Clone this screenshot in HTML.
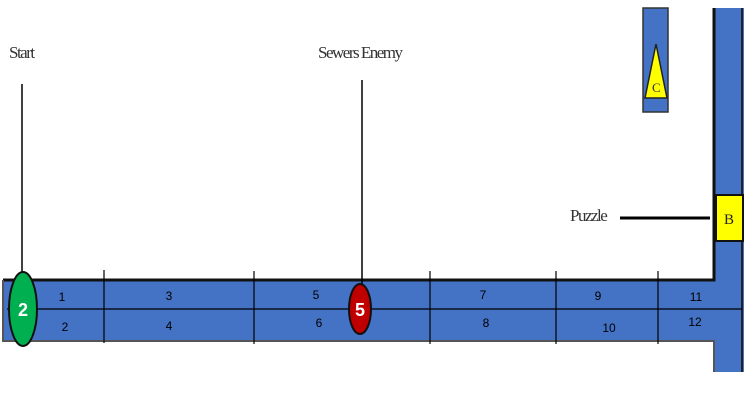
<!DOCTYPE html>
<html><head><meta charset="utf-8"><style>
html,body{margin:0;padding:0;background:#fff;width:745px;height:402px;overflow:hidden}
svg{display:block}
.n{font-family:"Liberation Sans",sans-serif;font-size:12px;fill:#000}
.lbl{font-family:"Liberation Serif",serif;font-size:17px;fill:#333;letter-spacing:-1.5px}
</style></head><body>
<svg width="745" height="402">
<!-- corridors -->
<path d="M3,280 H713 V8 H744 V372 H713 V341 H3 Z" fill="#4472c4"/>
<path d="M3,280 H714 V8" fill="none" stroke="#111" stroke-width="3"/>
<path d="M3,280 V341 H714 V372" fill="none" stroke="#555" stroke-width="2"/>
<line x1="742" y1="8" x2="742" y2="372" stroke="#222" stroke-width="2"/>
<rect x="643" y="8" width="25" height="104" fill="#4472c4" stroke="#333" stroke-width="1.5"/>
<polygon points="656,44 645,98 667,98" fill="#ffff00" stroke="#222" stroke-width="1.5"/>
<text x="652" y="92" style="font-family:'Liberation Serif',serif;font-size:13px" fill="#333">C</text>
<!-- grid lines -->
<line x1="7" y1="309" x2="742" y2="309" stroke="#000" stroke-width="1.2"/>
<g stroke="#000" stroke-width="1.2">
<line x1="104" y1="270" x2="104" y2="343"/><line x1="254" y1="271" x2="254" y2="344"/>
<line x1="430" y1="271" x2="430" y2="344"/><line x1="556" y1="271" x2="556" y2="344"/>
<line x1="658" y1="271" x2="658" y2="344"/>
</g>
<!-- labels -->
<text class="lbl" x="9" y="58">Start</text>
<line x1="22" y1="84" x2="22" y2="282" stroke="#000" stroke-width="1.5"/>
<text class="lbl" x="318" y="58">Sewers Enemy</text>
<line x1="362" y1="80" x2="362" y2="290" stroke="#000" stroke-width="1.5"/>
<text class="lbl" x="570" y="221">Puzzle</text>
<line x1="620" y1="218" x2="710" y2="218" stroke="#000" stroke-width="3"/>
<rect x="716" y="195" width="27" height="46" fill="#ffff00" stroke="#111" stroke-width="2"/>
<text x="724" y="224" style="font-family:'Liberation Serif',serif;font-size:15px" fill="#222">B</text>
<!-- markers -->
<ellipse cx="23" cy="309" rx="14" ry="37" fill="#00b050" stroke="#111" stroke-width="2"/>
<text x="23" y="316" text-anchor="middle" style="font-family:'Liberation Sans',sans-serif;font-size:18px;font-weight:bold" fill="#fff">2</text>
<ellipse cx="360" cy="309" rx="11" ry="25" fill="#c00000" stroke="#111" stroke-width="2"/>
<text x="360" y="316" text-anchor="middle" style="font-family:'Liberation Sans',sans-serif;font-size:18px;font-weight:bold" fill="#fff">5</text>
<!-- numbers -->
<g>
<text class="n" x="62" y="301" text-anchor="middle">1</text>
<text class="n" x="65" y="331" text-anchor="middle">2</text>
<text class="n" x="169" y="300" text-anchor="middle">3</text>
<text class="n" x="169" y="330" text-anchor="middle">4</text>
<text class="n" x="316" y="299" text-anchor="middle">5</text>
<text class="n" x="319" y="327" text-anchor="middle">6</text>
<text class="n" x="483" y="299" text-anchor="middle">7</text>
<text class="n" x="486" y="327" text-anchor="middle">8</text>
<text class="n" x="598" y="300" text-anchor="middle">9</text>
<text class="n" x="609" y="332" text-anchor="middle">10</text>
<text class="n" x="696" y="301" text-anchor="middle">11</text>
<text class="n" x="695" y="326" text-anchor="middle">12</text>
</g>
</svg>
</body></html>
